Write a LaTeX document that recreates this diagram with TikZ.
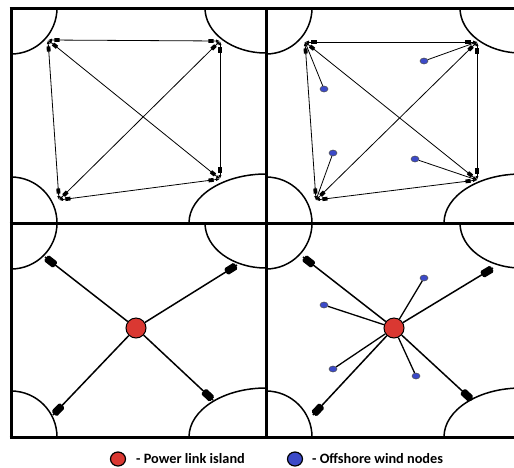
\documentclass[tikz,border=0pt]{standalone}
\usepackage{fontspec}
\setmainfont{Carlito}
\usetikzlibrary{arrows.meta,decorations.markings,shapes.geometric}
\definecolor{islandred}{RGB}{218,56,50}
\definecolor{windblue}{RGB}{60,74,200}

% coastlines of one panel: #1,#2 top-left corner, #3 panel height
\newcommand\shorelines[3]{%
  \begin{scope}
    \clip (#1,#2) rectangle ++(255,#3);
    \draw[shore] (#1,#2) circle[radius=46pt];
    \draw[shore] (#1+255,#2) ellipse[x radius=61pt, y radius=45pt];
    \draw[shore] (#1,#2+#3) circle[radius=46pt];
    \draw[shore] (#1+255,#2+#3) ellipse[x radius=77pt, y radius=49pt];
  \end{scope}}

\begin{document}
\begin{tikzpicture}[x=1pt,y=-1pt,
  frame/.style={line width=3pt},
  shore/.style={line width=1.5pt},
  link/.style={line width=0.8pt,
    {Latex[length=4pt,width=3.2pt]}-{Latex[length=4pt,width=3.2pt]},
    postaction={decorate},
    decoration={markings,
      mark=at position 9pt with {\fill (-2.6pt,-1.9pt) rectangle (2.6pt,1.9pt);},
      mark=at position -9pt with {\fill (-2.6pt,-1.9pt) rectangle (2.6pt,1.9pt);}}},
  feeder/.style={line width=0.8pt},
  cable/.style={line width=1.5pt, postaction={decorate},
    decoration={markings,
      mark=at position -7pt with {\fill[rounded corners=1.5pt] (-6pt,-3.8pt) rectangle (6pt,3.8pt);}}},
  spur/.style={line width=1.3pt},
  island/.style={circle, draw=black, line width=1pt, fill=islandred,
    minimum size=20pt, inner sep=0pt},
  wind/.style={ellipse, draw=black!70, line width=0.5pt, fill=windblue,
    minimum width=8pt, minimum height=6pt, inner sep=0pt},
  key/.style={ellipse, draw=black, line width=1.2pt, minimum width=15pt,
    minimum height=14pt, inner sep=0pt},
  keytext/.style={anchor=west, font=\bfseries\fontsize{14.3}{16}\selectfont, inner sep=0pt}]
\useasboundingbox (0,0) rectangle (514,467);
\fill[white] (0,0) rectangle (514,467);

% coastlines
\shorelines{11}{8}{215}
\shorelines{266}{8}{215}
\shorelines{11}{223}{214}
\shorelines{266}{223}{214}

% point-to-point grid
\coordinate (a1) at (48,40);
\coordinate (a2) at (220,41);
\coordinate (a3) at (59,200);
\coordinate (a4) at (220,179);
\draw[link] (a1) -- (a2);
\draw[link] (a1) -- (a3);
\draw[link] (a1) -- (a4);
\draw[link] (a2) -- (a3);
\draw[link] (a2) -- (a4);
\draw[link] (a3) -- (a4);

% point-to-point grid with wind farms
\coordinate (b1) at (305,42);
\coordinate (b2) at (477,42);
\coordinate (b3) at (316,200);
\coordinate (b4) at (477,180);
\draw[link] (b1) -- (b2);
\draw[link] (b1) -- (b3);
\draw[link] (b1) -- (b4);
\draw[link] (b2) -- (b3);
\draw[link] (b2) -- (b4);
\draw[link] (b3) -- (b4);
\node[wind] (w1) at (324,89) {};
\node[wind] (w2) at (424,61) {};
\node[wind] (w3) at (333,153) {};
\node[wind] (w4) at (415,159) {};
\draw[feeder] (w1) -- (b1);
\draw[feeder] (w2) -- (b2);
\draw[feeder] (w3) -- (b3);
\draw[feeder] (w4) -- (b4);

% hub with power link island
\coordinate (c1) at (45,257);
\coordinate (c2) at (237,265);
\coordinate (c3) at (53,415);
\coordinate (c4) at (213,400);
\node[island] (i1) at (136,328) {};
\foreach \k in {c1,c2,c3,c4} \draw[cable] (i1) -- (\k);

% hub with island and wind farms
\coordinate (d1) at (303,257);
\coordinate (d2) at (493,268);
\coordinate (d3) at (313,415);
\coordinate (d4) at (472,400);
\node[island] (i2) at (394,328) {};
\foreach \k in {d1,d2,d3,d4} \draw[cable] (i2) -- (\k);
\node[wind] (v1) at (324,305) {};
\node[wind] (v2) at (424,278) {};
\node[wind] (v3) at (333,369) {};
\node[wind] (v4) at (416,376) {};
\foreach \k in {v1,v2,v3,v4} \draw[spur] (i2) -- (\k);

% panel frame
\draw[frame] (11,8) -- (11,437);
\draw[frame] (266,8) -- (266,437);
\draw[frame] (9.5,8) -- (514,8);
\draw[frame] (9.5,223) -- (514,223);
\draw[frame] (9.5,437) -- (514,437);

% legend
\node[key, fill=islandred] (k1) at (118,459) {};
\node[keytext] (t1) at (136,459) {- Power link island};
\node[key, fill=windblue] (k2) at (295,459) {};
\node[keytext] (t2) at (312,459) {- Offshore wind nodes};
\end{tikzpicture}
\end{document}
